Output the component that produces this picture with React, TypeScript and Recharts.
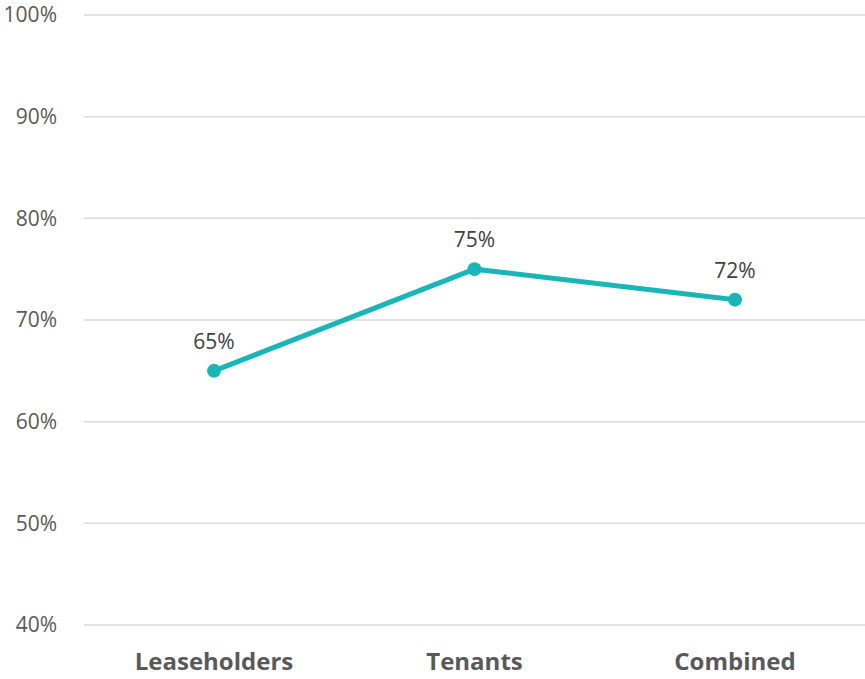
import { LineChart, Line, XAxis, YAxis, CartesianGrid, LabelList } from "recharts";

const categories = ["Leaseholders", "Tenants", "Combined"];
const satisfaction = [0.65, 0.75, 0.72];
const yTicks = [0.4, 0.5, 0.6, 0.7, 0.8, 0.9, 1.0];

const data = categories.map((name, i) => ({ name, value: satisfaction[i] }));

const pct = (v: number) => `${Math.round(v * 100)}%`;

const TEAL = "#1AB5B8";
const TEXT = "#595959";

export default function App() {
  return (
    <div style={{ width: 865, height: 679, background: "#fff" }}>
      <style>{`body { margin: 0; }`}</style>
      <LineChart
        width={865}
        height={679}
        data={data}
        margin={{ top: 15, right: 0, bottom: 0, left: 0 }}
        style={{ fontFamily: "'Open Sans', sans-serif" }}
      >
        <CartesianGrid vertical={false} stroke="#D9D9D9" strokeWidth={1.5} />
        <XAxis
          dataKey="name"
          axisLine={false}
          tickLine={false}
          height={54}
          tickMargin={22}
          padding={{ left: 130, right: 130 }}
          tick={{ fill: TEXT, fontSize: 24, fontWeight: 700 }}
        />
        <YAxis
          domain={[0.4, 1.0]}
          ticks={yTicks}
          tickFormatter={pct}
          axisLine={false}
          tickLine={false}
          width={84}
          tickMargin={21}
          tick={{ fill: TEXT, fontSize: 21 }}
        />
        <Line
          dataKey="value"
          stroke={TEAL}
          strokeWidth={5}
          dot={{ r: 7, fill: TEAL, stroke: TEAL, strokeWidth: 0 }}
          activeDot={false}
          isAnimationActive={false}
        >
          <LabelList
            dataKey="value"
            position="top"
            offset={22}
            formatter={(v: number) => pct(v)}
            style={{ fill: "#404040", fontSize: 21 }}
          />
        </Line>
      </LineChart>
    </div>
  );
}
